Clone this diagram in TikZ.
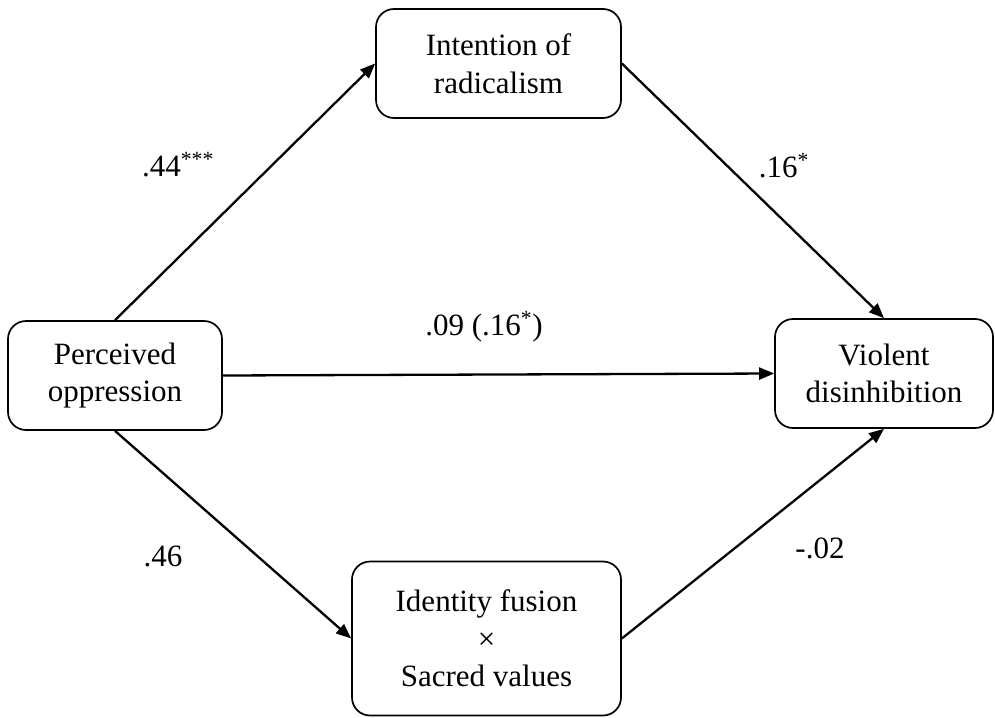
\documentclass[tikz,border=0pt]{standalone}
\usepackage{fontspec}
\setmainfont{Liberation Serif}
\usetikzlibrary{arrows.meta}
\begin{document}
\begin{tikzpicture}[x=1pt,y=-1pt,
  box/.style={draw,line width=1.7pt,rounded corners=18pt,inner sep=0pt,align=center,
    font=\fontsize{31}{37.5}\selectfont},
  conn/.style={line width=2.3pt,-{Triangle[length=15pt,width=12pt]}},
  lab/.style={font=\fontsize{31}{36}\selectfont,inner sep=0pt,anchor=base}]
\useasboundingbox (0,0) rectangle (995,717);
\node[box,minimum width=214pt,minimum height=109pt] (P) at (115,375.5) {Perceived\\oppression};
\node[box,minimum width=245pt,minimum height=109pt] (I) at (498.5,63.5) {Intention of\\radicalism};
\node[box,minimum width=269pt,minimum height=154pt] (F) at (486.5,638.5) {Identity fusion\\×\\Sacred values};
\node[box,minimum width=218pt,minimum height=109pt] (V) at (884,373.5) {Violent\\disinhibition};
\draw[conn] (P.north) -- (I.west);
\draw[conn] (I.east) -- (V.north);
\draw[conn] (P.east) -- (V.west);
\draw[conn] (P.south) -- (F.west);
\draw[conn] (F.east) -- (V.south);
\node[lab] (l1) at (178,176) {.44\textsuperscript{***}};
\node[lab] (l2) at (784,177) {.16\textsuperscript{*}};
\node[lab] (l3) at (484,335) {.09 (.16\textsuperscript{*})};
\node[lab] (l4) at (163,566) {.46};
\node[lab] (l5) at (820,558) {-.02};
\end{tikzpicture}
\end{document}
